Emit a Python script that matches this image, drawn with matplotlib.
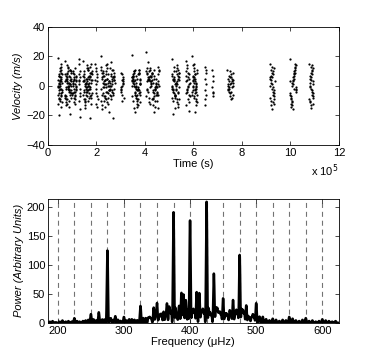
import numpy as np
import matplotlib
matplotlib.use('Agg')
import matplotlib.pyplot as plt

plt.rcParams['font.family'] = ['Liberation Sans', 'DejaVu Sans']
plt.rcParams['font.size'] = 8

# ---- datos: velocidades radiales por noche de observacion (tiempo en 1e5 s) ----
t_inicio = [0.42, 0.70, 1.02, 1.28, 1.45, 1.95, 2.18, 3.00, 3.45, 4.05,
            5.10, 5.68, 5.95, 6.48, 6.78, 7.40, 9.15, 9.98, 10.78]
t_fin = [0.58, 0.98, 1.18, 1.33, 1.82, 2.05, 2.75, 3.12, 3.82, 4.58,
         5.42, 5.85, 6.15, 6.52, 6.82, 7.65, 9.35, 10.25, 10.95]
velocidades = [
    [19, -20, 12, -14, 8, 3, -5, 0, -9, 6, 2, -3, 10, -7, 4, -1, 13, -11, 7, -2, 5, -6, 1, 9, -4, -8, 3, 11, -12, 0,
     6, -3, 2, -10, 15, -1, 4, -6, 8, -5, 1, -2, 7, -9, 3],
    [17, -19, 10, -13, 5, -2, 8, -6, 1, 12, -9, 3, -4, 14, -7, 6, 0, -11, 9, -3, 2, -8, 11, -1, 4, -5, 7, -12, 3, -6,
     13, -2, 0, -10, 5, 8, -4, 2, -7, 10, -3, 6, -1, 1, -14, 9, -5, 4, -2, 7, -8, 0, 3, -6, 11, -1, 5, -3, 2, -9],
    [10, -8, 4, -2, 7, -5, 1, 9, -11, 3, -4, 6, 0, -7, 2, 12, -3, 5, -1, 8, -6, 3, -9, 0, 4, -2, 6, -4, 1, -12],
    [18, -21, 15, -16, 10, -10, 6, -5, 3, -2, 1, 8, -7, 4],
    [17, -22, 12, -15, 9, -8, 5, -3, 2, 11, -6, 7, -1, 14, -10, 4, 0, -4, 8, -12, 6, -2, 3, 13, -7, 1, 10, -5, 5, -9,
     15, -3, 2, -6, 9, 0, -11, 4, 7, -1, 3, -8, 12, -4, 6, -2, 1, -13, 8, 5, -3, 10, -6, 2, -1, 4, -7, 11, 0, -5,
     6, 3, -9, 9, -2, 1, -4, 7, -10, 2],
    [15, -14, 10, -9, 6, -5, 3, -2, 1, 8, -12, 4, -7, 12],
    [20, -22, 16, -18, 12, -14, 9, -10, 6, -7, 3, -4, 1, -1, 11, -5, 8, -3, 5, -8, 2, 13, -6, 7, 0, -11, 4, 10, -2, 6,
     -9, 3, 15, -4, 1, -13, 9, 5, -6, 2, -1, 7, -16, 4, 11, -3, 0, 8, -7, 6, -2, 3, 12, -5, 1, -10, 9, 4, -4, 2,
     -8, 14, -1, 5, 7, -3, 0, -12, 10, 3, -6, 6, 1, -2, 8, -9, 4, -5, 2, 11, 0, -3, 5, -7, 7],
    [9, -10, 6, -6, 3, -3, 1, -1, 8, -8, 4, 2, -4, 5, -2, 0],
    [21, -18, 11, -15, 8, -10, 5, -7, 2, -4, 10, -1, 7, -12, 4, 0, -6, 9, -3, 3, -9, 6, -2, 1, 11, -5, 8, -14, 3, -8,
     5, -1, 9, 2, -6, 0, 7, -11, 4, -3, 10, -2, 6, -7, 1, -4, 8, 3, -9, 5, -1, 2, -5, 11, 0, -13, 6, -3, 4, -6,
     9, 1, -2, 7, -10],
    [23, -18, 16, -14, 11, -10, 8, -7, 5, -4, 2, -1, 13, -9, 10, -5, 6, 0, -12, 3, 9, -3, 7, -8, 1, 12, -6, 4, -2, 11,
     -11, 5, 0, 8, -4, 3, -7, 10, -1, 6, -15, 2, 9, -3, 4, -6, 7, 1, -9, 12, -2, 5, -5, 3, 0, -8, 8, -1, 6, -4,
     2, 10, -13, 4, -2, 7, -6, 1, 11, -3, 5, -10, 3, -1, 9],
    [18, -19, 13, -15, 10, -11, 7, -8, 4, -5, 1, -2, 12, -9, 8, -3, 5, -6, 2, -12, 9, 0, -4, 6, -7, 3, 11, -1, 7, -10,
     4, -3, 1, -14, 9, -2, 5, -6, 2, 14, -5, 6, -1, 3, -8, 0, 8, -4, 4, -2, 10, -7, 1, -9, 5],
    [17, -17, 12, -13, 8, -9, 4, -5, 1, -1, 10, -7, 6, -3, 3, -11, 9, -2, 2, 5, -4, 7, -6, 0, 14],
    [20, -18, 14, -13, 10, -9, 6, -6, 3, -3, 0, 12, -11, 8, -4, 5, -1, 2, -7, 9, -2, 4, -5, 7, 1, -8, 11, -3, 3, -10,
     6, -1, 2, -6, 8, 0, -4, 5, -2, 15],
    [13, -13, 9, 5, 1, -3, -6, -9, 11],
    [11, -7, 7, 3, -1, -4, -5],
    [11, 6, 9, 3, 5, 0, 2, -3, 1, -6, -1, -8, -4, -9, -2, -7, 0, -5, 3, -2, 6, 1, 8, 4, 10, 2, 7, -1, 5, -4],
    [15, -16, 12, -13, 10, -10, 8, -8, 6, -5, 4, -3, 2, -1, 0, 13, -12, 9, -7, 7, -4, 5, -2, 3, 1, -9, 11, -6, 6, -11],
    [18, -16, 14, -13, 11, -11, 9, -9, 7, -7, 5, -5, 3, -3, 1, -1, 0, 12, -12, 10, -8, 8, -6, 6, -4, 4, -2, 2, 15, -10,
     13, -14, 9, 3, -2],
    [15, -15, 12, -13, 10, -11, 8, -9, 6, -7, 4, -5, 2, -3, 0, 13, -12, 9, -8, 7, -6, 5, -4, 3, -2, 1, -1, 11, -10, 14],
]

# ---- datos: espectro de potencia (picos de modos) ----
f_picos = [225, 250, 262, 275, 287, 300, 312, 325, 333, 345, 350, 360, 365, 375, 380,
           387, 390, 400, 410, 414, 425, 436, 450, 460, 465, 475, 480, 485, 500, 510,
           525, 550, 575, 600]
p_picos = [8, 15, 18, 125, 11, 10, 6, 29, 8, 25, 33, 17, 32, 190, 12,
           48, 45, 175, 51, 49, 208, 83, 40, 20, 37, 115, 20, 28, 33, 10,
           7, 10, 8, 6]
# picos pequenos de ruido
f_ruido = [188, 192, 197, 203, 207, 212, 216, 221, 229, 233, 238, 242, 246, 254, 258,
           267, 270, 280, 284, 291, 295, 304, 308, 316, 320, 329, 337, 341, 355, 369,
           371, 383, 394, 397, 405, 419, 421, 430, 441, 445, 455, 470, 490, 495, 505,
           515, 520, 530, 535, 540, 545, 555, 560, 565, 570, 580, 585, 590, 595, 605,
           610, 615, 620, 339, 348, 353, 357, 363, 368, 378, 384, 393, 403, 407, 417,
           428, 432, 439, 443, 447, 453, 457, 462, 468, 472, 478, 482, 488, 493, 497]
p_ruido = [2, 3, 1, 2, 4, 2, 3, 2, 3, 2, 3, 4, 5, 6, 4,
           5, 3, 6, 4, 5, 3, 4, 6, 5, 4, 8, 9, 7, 14, 20,
           15, 18, 25, 12, 20, 22, 15, 14, 24, 18, 15, 20, 8, 14, 10,
           6, 4, 5, 3, 5, 4, 7, 4, 3, 5, 3, 4, 2, 3, 4,
           3, 2, 3, 10, 12, 8, 14, 10, 12, 16, 15, 20, 14, 16, 18,
           15, 12, 22, 16, 12, 14, 10, 16, 12, 14, 18, 15, 10, 9, 8]
lineas_f = list(range(200, 601, 25))

fig = plt.figure(figsize=(3.74, 3.64), dpi=100)

# ===== Velocidad =====
ax1 = fig.add_axes([0.128, 0.602, 0.778, 0.324])
for a, b, v in zip(t_inicio, t_fin, velocidades):
    n = len(v)
    paso = [k for k in (7, 11, 13, 17, 19) if np.gcd(k, n) == 1][0]
    orden = (np.arange(n) * paso) % n  # reordena sin inventar valores
    t = np.linspace(a, b, n) * 1e5
    ax1.plot(t, np.array(v)[orden], 'k.', ms=3.2, mew=0)
ax1.set_xlim(0, 12e5)
ax1.set_ylim(-40, 40)
ax1.set_xticks(np.arange(0, 13, 2) * 1e5)
ax1.set_xticklabels([str(i) for i in range(0, 13, 2)])
ax1.set_yticks([-40, -20, 0, 20, 40])
ax1.set_xlabel('Time (s)', labelpad=1)
ax1.set_ylabel('Velocity (m/s)', style='italic', labelpad=2)
ax1.text(1.0, -0.15, r'x 10$^5$', transform=ax1.transAxes, ha='right', va='top')

# ===== Espectro =====
ax2 = fig.add_axes([0.128, 0.113, 0.778, 0.341])
for fl in lineas_f:
    ax2.axvline(fl, color='0.45', lw=0.8, ls=(0, (4.5, 3.5)), zorder=1)
f = np.arange(185, 625.01, 0.2)
potencia = np.zeros_like(f)
for f0, p0 in zip(f_picos + f_ruido, p_picos + p_ruido):
    potencia += p0 * np.sinc((f - f0) / 2.1) ** 2
ax2.plot(f, potencia, 'k-', lw=1.8, zorder=2)
ax2.set_xlim(185, 625)
ax2.set_ylim(0, 215)
ax2.set_xticks([200, 300, 400, 500, 600])
ax2.set_yticks([0, 50, 100, 150, 200])
ax2.set_xlabel('Frequency (\u03bcHz)', labelpad=1)
ax2.set_ylabel('Power (Arbitrary Units)', style='italic', labelpad=2)

for ax in (ax1, ax2):
    ax.tick_params(direction='in', top=True, right=True, length=3, width=0.5, pad=2)
    for s in ax.spines.values():
        s.set_linewidth(0.6)

fig.savefig('out.png', dpi=100)
